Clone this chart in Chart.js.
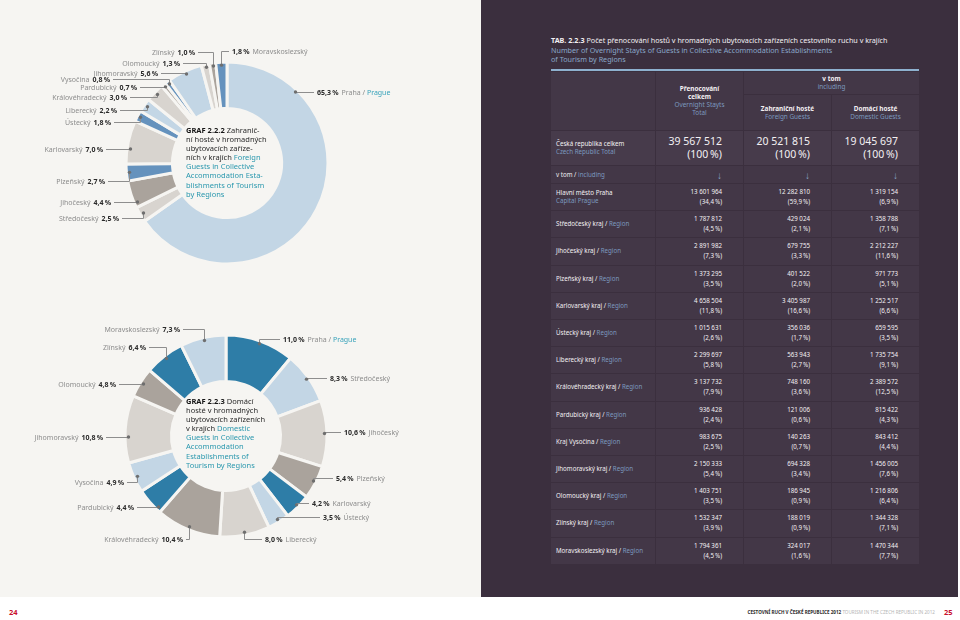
<!DOCTYPE html>
<html><head><meta charset="utf-8">
<script src="https://cdn.jsdelivr.net/npm/chart.js@4"></script>
<style>
html,body{margin:0;padding:0;width:960px;height:620px;overflow:hidden;background:#ffffff;font-family:"Noto Sans",sans-serif;}
#left{position:absolute;left:0;top:0;width:481px;height:597px;background:#f6f5f2;}
#right{position:absolute;left:481px;top:0;width:477px;height:597px;background:#3b2f3e;}
canvas{position:absolute;left:0;}
.center{position:absolute;left:186px;font-size:7.5px;line-height:9.1px;color:#2a2a2a;white-space:nowrap;}
.center b{color:#151515}
.en{color:#2b98ae}
.title{position:absolute;left:551px;top:36px;font-size:7.2px;line-height:9.6px;color:#f3f0f3;white-space:nowrap;}
.title .b{color:#8aa7c9}
.cell{position:absolute;background:#433747;box-sizing:border-box;color:#f3f0f3;font-size:6.2px;}
.lab{display:flex;flex-direction:column;justify-content:center;padding-left:5px;line-height:8px;}
.num{display:flex;flex-direction:column;justify-content:center;align-items:flex-end;padding-right:21px;line-height:10px;font-size:6.2px;white-space:pre;}
.big{font-size:10.5px;line-height:13px;}
.bl{color:#7c99bf}
.hd{display:flex;flex-direction:column;justify-content:center;align-items:center;text-align:center;line-height:8px;font-size:6.4px;}
.hd b{font-weight:bold}
.arrow{display:flex;align-items:center;justify-content:flex-end;padding-right:21px;color:#8aa5c8;font-size:10px;}
#foot{position:absolute;left:0;top:597px;width:960px;height:23px;background:#fff;}
</style></head>
<body>
<div id="left"></div>
<div id="right"></div>
<canvas id="c1" width="481" height="290" style="top:0px"></canvas>
<canvas id="c2" width="481" height="307" style="top:290px"></canvas>

<div class="center" style="top:126px"><b>GRAF 2.2.2</b> Zahranič-<br>ní hosté v hromadných<br>ubytovacích zaříze-<br>ních v krajích <span class="en">Foreign</span><br><span class="en">Guests in Collective<br>Accommodation Esta-<br>blishments of Tourism<br>by Regions</span></div>
<div class="center" style="top:397px"><b>GRAF 2.2.3</b> Domácí<br>hosté v hromadných<br>ubytovacích zařízeních<br>v krajích <span class="en">Domestic</span><br><span class="en">Guests in Collective<br>Accommodation<br>Establishments of<br>Tourism by Regions</span></div>

<div class="title"><b>TAB. 2.2.3</b> Počet přenocování hostů v hromadných ubytovacích zařízeních cestovního ruchu v krajích<br><span class="b">Number of Overnight Stayts of Guests in Collective Accommodation Establishments<br>of Tourism by Regions</span></div>
<div id="table"></div>
<div id="foot">
  <div style="position:absolute;left:9px;top:10px;font-size:7.5px;font-weight:bold;color:#c8102e;">24</div>
  <div style="position:absolute;right:25px;top:12px;font-size:4.6px;white-space:nowrap;color:#2a2a2a;font-weight:bold;">CESTOVNÍ RUCH V ČESKÉ REPUBLICE 2012 <span style="color:#b5b5b5;font-weight:normal">TOURISM IN THE CZECH REPUBLIC IN 2012</span></div>
  <div style="position:absolute;left:944px;top:10px;font-size:7.5px;font-weight:bold;color:#c8102e;">25</div>
</div>

<script>
// ---------- DATA ----------
const regionNames = ["Praha","Středočeský","Jihočeský","Plzeňský","Karlovarský","Ústecký","Liberecký","Královéhradecký","Pardubický","Vysočina","Jihomoravský","Olomoucký","Zlínský","Moravskoslezský"];
const foreignPct  = [65.3, 2.5, 4.4, 2.7, 7.0, 1.8, 2.2, 3.0, 0.7, 0.8, 5.6, 1.3, 1.0, 1.8];
const domesticPct = [11.0, 8.3, 10.6, 5.4, 4.2, 3.5, 8.0, 10.4, 4.4, 4.9, 10.8, 4.8, 6.4, 7.3];

const tableRegions = ["Hlavní město Praha","Středočeský kraj","Jihočeský kraj","Plzeňský kraj","Karlovarský kraj","Ústecký kraj","Liberecký kraj","Královéhradecký kraj","Pardubický kraj","Kraj Vysočina","Jihomoravský kraj","Olomoucký kraj","Zlínský kraj","Moravskoslezský kraj"];
const totalStays    = [13601964, 1787812, 2891982, 1373295, 4658504, 1015631, 2299697, 3137732, 936428, 983675, 2150333, 1403751, 1532347, 1794361];
const totalShare    = [34.4, 4.5, 7.3, 3.5, 11.8, 2.6, 5.8, 7.9, 2.4, 2.5, 5.4, 3.5, 3.9, 4.5];
const foreignStays  = [12282810, 429024, 679755, 401522, 3405987, 356036, 563943, 748160, 121006, 140263, 694328, 186945, 188019, 324017];
const foreignShare  = [59.9, 2.1, 3.3, 2.0, 16.6, 1.7, 2.7, 3.6, 0.6, 0.7, 3.4, 0.9, 0.9, 1.6];
const domesticStays = [1319154, 1358788, 2212227, 971773, 1252517, 659595, 1735754, 2389572, 815422, 843412, 1456005, 1216806, 1344328, 1470344];
const domesticShare = [6.9, 7.1, 11.6, 5.1, 6.6, 3.5, 9.1, 12.5, 4.3, 4.4, 7.6, 6.4, 7.1, 7.7];
const czTotals = [39567512, 20521815, 19045697];

// ---------- STYLES / LAYOUT ----------
const LB='#c3d6e5', LG='#d8d4cf', TP='#aaa39c', SB='#6592bd', DB='#2e7da7';
const foreignColors  = [LB, LG, TP, SB, LG, SB, LB, LG, TP, SB, LB, LG, TP, SB];
const domesticColors = [DB, LB, LG, TP, DB, LB, LG, TP, DB, LB, LG, TP, DB, LB];
// label layout: [side, text x, text y] in page coordinates
const foreignLayout = [['R',317,92],['L',119,218],['L',111,202],['L',105,181],['L',103,149],['L',111,122],['L',117,110],['L',127,97],['L',137,87],['L',110,79],['L',158,73],['L',180,63],['L',195,52],['R',232,51]];
const domesticLayout = [['R',283,339],['R',330,378],['R',344,432],['R',336,478],['R',312,503],['R',323,517],['R',265,539],['L',183,539],['L',134,507],['L',124,482],['L',103,437],['L',116,384],['L',146,347],['L',180,329]];

const BG = '#f6f5f2';
const fmtPct = v => v.toFixed(1).replace('.', ',') + '\u2009%';
const fmtNum = n => String(n).replace(/\B(?=(\d{3})+(?!\d))/g, ' ');

const leaderPlugin = {
  id: 'leader',
  afterDraw(chart, args, opts) {
    const ctx = chart.ctx;
    const meta = chart.getDatasetMeta(0);
    const vals = chart.data.datasets[0].data;
    const names = chart.data.labels;
    ctx.save();
    meta.data.forEach((arc, i) => {
      const p = arc.getProps(['x','y','startAngle','endAngle','outerRadius'], true);
      const r = p.outerRadius - 3;
      const mid = (p.startAngle + p.endAngle) / 2;
      let dx = p.x + Math.cos(mid) * r, dy = p.y + Math.sin(mid) * r;
      const L = opts.layout[i];
      const side = L[0], tx = L[1], ty = L[2] - opts.offsetY;
      if (Math.abs(dy - ty) > 6 && Math.abs(ty - p.y) < r) {
        const s = Math.sqrt(r*r - (ty - p.y)*(ty - p.y));
        const ix = side === 'L' ? p.x - s : p.x + s;
        let a = Math.atan2(ty - p.y, ix - p.x);
        while (a < p.startAngle) a += Math.PI * 2;
        const margin = 0.02;
        if (a > p.startAngle + margin && a < p.endAngle - margin) { dx = ix; dy = ty; }
      }
      const yy = Math.round(ty) + 0.5;
      const xx = Math.round(dx) + 0.5;
      ctx.strokeStyle = '#8e8e8e'; ctx.lineWidth = 1;
      ctx.beginPath();
      ctx.moveTo(xx, dy);
      ctx.lineTo(xx, yy);
      ctx.lineTo(side === 'L' ? tx + 3 : tx - 3, yy);
      ctx.stroke();
      ctx.fillStyle = '#6e6e6e';
      ctx.beginPath(); ctx.arc(xx, dy, 1.7, 0, Math.PI*2); ctx.fill();
      ctx.textBaseline = 'middle';
      const pct = fmtPct(vals[i]);
      const fB = 'bold 7px "Noto Sans"', fN = '7px "Noto Sans"';
      if (side === 'L') {
        ctx.textAlign = 'right';
        ctx.font = fB; ctx.fillStyle = '#2a2a2a';
        ctx.fillText(pct, tx, yy);
        const w = ctx.measureText(pct).width;
        ctx.font = fN; ctx.fillStyle = '#8d8d8d';
        ctx.fillText(names[i], tx - w - 3, yy);
      } else {
        ctx.textAlign = 'left';
        ctx.font = fB; ctx.fillStyle = '#2a2a2a';
        ctx.fillText(pct, tx, yy);
        let x = tx + ctx.measureText(pct).width + 3;
        ctx.font = fN; ctx.fillStyle = '#8d8d8d';
        if (names[i] === 'Praha') {
          const t1 = 'Praha / ';
          ctx.fillText(t1, x, yy);
          x += ctx.measureText(t1).width;
          ctx.fillStyle = '#3aa3bb';
          ctx.fillText('Prague', x, yy);
        } else {
          ctx.fillText(names[i], x, yy);
        }
      }
    });
    ctx.restore();
  }
};

function makeDonut(id, values, colors, layout, offsetY, cx, cy, R, H) {
  return new Chart(document.getElementById(id), {
    type: 'doughnut',
    data: { labels: regionNames, datasets: [{ data: values, backgroundColor: colors, borderColor: BG, borderWidth: 3, hoverOffset: 0 }] },
    options: {
      responsive: false, animation: false, devicePixelRatio: 1, events: [],
      radius: R, cutout: '54%',
      layout: { padding: { left: cx - R, right: 481 - cx - R, top: cy - R, bottom: H - cy - R } },
      plugins: { legend: { display: false }, tooltip: { enabled: false }, leader: { layout, offsetY } }
    },
    plugins: [leaderPlugin]
  });
}
makeDonut('c1', foreignPct, foreignColors, foreignLayout, 0, 227, 163, 101, 290);
makeDonut('c2', domesticPct, domesticColors, domesticLayout, 290, 226, 146, 101, 307);

// ---------- TABLE ----------
const T = document.getElementById('table');
function cell(x, y, w, h, cls, html) {
  const d = document.createElement('div');
  d.className = 'cell ' + (cls || '');
  d.style.cssText = `left:${x}px;top:${y}px;width:${w}px;height:${h}px`;
  d.innerHTML = html || '';
  T.appendChild(d); return d;
}
const colX = [551, 656, 744, 832], colW = [104, 87, 87, 87];
const rule = document.createElement('div');
rule.style.cssText = 'position:absolute;left:551px;top:69px;width:368px;height:2px;background:#8eb1cf';
T.appendChild(rule);
cell(colX[0], 72, colW[0], 58, 'hd', '');
cell(colX[1], 72, colW[1], 58, 'hd', '<b>Přenocování</b><b>celkem</b><span class="bl">Overnight Stayts</span><span class="bl">Total</span>');
cell(colX[2], 72, colW[2] + 1 + colW[3], 22, 'hd', '<b>v tom</b><span class="bl">including</span>');
cell(colX[2], 95, colW[2], 35, 'hd', '<b>Zahraniční hosté</b><span class="bl">Foreign Guests</span>');
cell(colX[3], 95, colW[3], 35, 'hd', '<b>Domácí hosté</b><span class="bl">Domestic Guests</span>');
cell(colX[0], 131, colW[0], 34, 'lab', '<span>Česká republika celkem</span><span class="bl">Czech Republic Total</span>').style.background = '#473b4b';
czTotals.forEach((v, k) => {
  cell(colX[k+1], 131, colW[k+1], 34, 'num big', `<span>${fmtNum(v)}</span><span>(100\u2009%)</span>`).style.background = '#473b4b';
});
cell(colX[0], 166, colW[0], 17, 'lab', '<span>v tom / <span class="bl">including</span></span>');
for (let k = 1; k < 4; k++) cell(colX[k], 166, colW[k], 17, 'arrow', '↓');
tableRegions.forEach((name, i) => {
  const y = 184 + i * 27.2, h = 26.2;
  const lab = i === 0 ? `<span>${name}</span><span class="bl">Capital Prague</span>` : `<span>${name} / <span class="bl">Region</span></span>`;
  cell(colX[0], y, colW[0], h, 'lab', lab);
  const cols = [[totalStays, totalShare], [foreignStays, foreignShare], [domesticStays, domesticShare]];
  cols.forEach((c, k) => {
    cell(colX[k+1], y, colW[k+1], h, 'num', `<span>${fmtNum(c[0][i])}</span><span>(${fmtPct(c[1][i])})</span>`);
  });
});
</script>
</body></html>
